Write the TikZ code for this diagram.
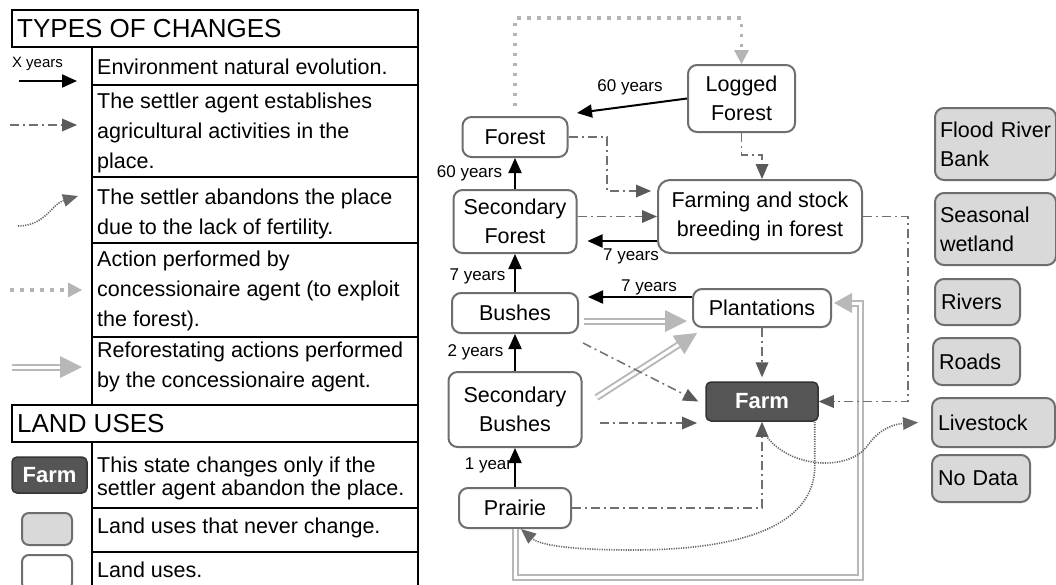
\documentclass[tikz,border=0pt]{standalone}
\usepackage{fontspec}
\setmainfont{Liberation Sans}
\usetikzlibrary{arrows.meta,calc}
\definecolor{bordercol}{HTML}{6E6E6E}
\definecolor{grayfill}{HTML}{D9D9D9}
\definecolor{farmfill}{HTML}{555555}
\definecolor{dashcol}{HTML}{707070}
\definecolor{tipcol}{HTML}{5A5A5A}
\definecolor{concol}{HTML}{B4B4B4}
\definecolor{abcol}{HTML}{666666}
\definecolor{dblcol}{HTML}{B8B8B8}
\begin{document}
\begin{tikzpicture}[x=1pt,y=-1pt,
  bodyfont/.style={font=\fontsize{21.5}{29}\selectfont},
  wbox/.style={draw=bordercol, line width=2pt, rounded corners=9pt, fill=white, align=center, inner sep=0pt, bodyfont},
  gbox/.style={draw=bordercol, line width=2pt, rounded corners=9pt, fill=grayfill, align=left, inner xsep=6pt, inner ysep=0pt, bodyfont},
  farmbox/.style={draw=black!80, line width=1.5pt, rounded corners=5pt, fill=farmfill, text=white, inner sep=0pt, font=\bfseries\fontsize{22}{26}\selectfont},
  yearlab/.style={font=\fontsize{17}{20}\selectfont, inner sep=0pt},
  natarrow/.style={draw=black, line width=2pt, -{Triangle[length=15pt,width=13pt]}},
  setarrow/.style={draw=dashcol, line width=1.5pt, dash pattern=on 9pt off 4pt on 2pt off 4pt, -{Triangle[length=15pt,width=13pt,color=tipcol,line width=0pt]}},
  conarrow/.style={draw=concol, line width=3.5pt, dash pattern=on 3.5pt off 6.5pt, -{Triangle[length=14pt,width=15pt,line width=0pt]}},
  abarrow/.style={draw=abcol, line width=1.6pt, dash pattern=on 1.2pt off 1.2pt, -{Triangle[length=15pt,width=13pt,line width=0pt]}},
  dblline/.style={draw=dblcol, line width=2pt, double=white, double distance=3pt},
  dbltip/.style={draw=dblcol, line width=0.5pt, -{Triangle[length=22pt,width=22pt,line width=0pt]}},
  legline/.style={draw=black, line width=1.6pt},
  legtext/.style={font=\fontsize{21.5}{30}\selectfont, align=left, anchor=west, inner sep=0pt},
  legtitle/.style={font=\fontsize{26}{30}\selectfont, anchor=west, inner sep=0pt},
]
\fill[white] (0,0) rectangle (1056,584);
\useasboundingbox (0,0) rectangle (1056,584);

% ---------------- legend frame ----------------
\draw[legline] (12,10) rectangle (418,47);
\draw[legline] (92,47) -- (92,405) (418,47) -- (418,405);
\draw[legline] (92,85) -- (418,85) (92,177) -- (418,177) (92,243) -- (418,243) (92,337) -- (418,337);
\draw[legline] (12,405) rectangle (418,442);
\draw[legline] (92,442) -- (92,590) (418,442) -- (418,590);
\draw[legline] (92,508) -- (418,508) (92,552) -- (418,552);

% ---------------- legend texts ----------------
\node[legtitle] (lt1) at (17,29) {TYPES OF CHANGES};
\node[legtext] (l1) at (97,67) {Environment natural evolution.};
\node[legtext] (l2) at (97,132.5) {The settler agent establishes\\agricultural activities in the\\place.};
\node[legtext] (l3) at (97,213.5) {The settler abandons the place\\due to the lack of fertility.};
\node[legtext] (l4) at (97,291) {Action performed by\\concessionaire agent (to exploit\\the forest).};
\node[legtext] (l5) at (97,367) {Reforestating actions performed\\by the concessionaire agent.};
\node[legtitle] (lt2) at (17,424) {LAND USES};
\node[legtext, font=\fontsize{21.5}{23}\selectfont] (l6) at (97,478.5) {This state changes only if the\\settler agent abandon the place.};
\node[legtext] (l7) at (97,528) {Land uses that never change.};
\node[legtext] (l8) at (97,570) {Land uses.};

% ---------------- legend icons ----------------
\node[yearlab, font=\fontsize{15}{18}\selectfont] (lx) at (37.5,64) {X years};
\coordinate (l1a) at (19,81); \coordinate (l1b) at (77,81);
\draw[natarrow] (l1a) -- (l1b);
\coordinate (l2a) at (10,125); \coordinate (l2b) at (77,125);
\draw[setarrow] (l2a) -- (l2b);
\coordinate (l3a) at (18,226); \coordinate (l3b) at (78,196);
\draw[abarrow] (l3a) .. controls (45,226) and (52,204) .. (l3b);
\coordinate (l4a) at (10,290); \coordinate (l4b) at (82,290);
\draw[conarrow] (l4a) -- (l4b);
\coordinate (l5a) at (12,367); \coordinate (l5b) at (82,367);
\draw[dbltip] ($(l5b)+(-25,0)$) -- (l5b);
\draw[dblline] (l5a) -- ($(l5b)+(-22,0)$);
\node[farmbox, minimum width=75pt, minimum height=36pt] (lfarm) at (49.5,475) {Farm};
\node[gbox, minimum width=50pt, minimum height=32pt, inner sep=0pt, rounded corners=7pt] (lgray) at (47,529) {};
\node[wbox, minimum width=50pt, minimum height=35pt, rounded corners=7pt] (lwhite) at (47,572.5) {};

% ---------------- diagram nodes ----------------
\node[wbox, minimum width=105pt, minimum height=40pt] (forest) at (515,137) {Forest};
\node[wbox, minimum width=107pt, minimum height=67pt] (logged) at (741.5,98.5) {Logged\\Forest};
\node[wbox, minimum width=123pt, minimum height=63pt] (secforest) at (515,221.5) {Secondary\\Forest};
\node[wbox, minimum width=204pt, minimum height=73pt, rounded corners=12pt] (farming) at (760,216.5) {Farming and stock\\breeding in forest};
\node[wbox, minimum width=126pt, minimum height=40pt] (bushes) at (515,313) {Bushes};
\node[wbox, minimum width=138pt, minimum height=38pt] (plant) at (762,308) {Plantations};
\node[wbox, minimum width=133pt, minimum height=75pt] (secbushes) at (515,409.5) {Secondary\\Bushes};
\node[farmbox, minimum width=112pt, minimum height=39pt] (farm) at (762,401.5) {Farm};
\node[wbox, minimum width=112pt, minimum height=40pt] (prairie) at (515,508) {Prairie};

\node[gbox, text width=111pt, inner xsep=5pt, minimum height=72pt] (flood) at (995.5,144) {Flood~River\\Bank};
\node[gbox, text width=111pt, inner xsep=5pt, minimum height=72pt] (seasonal) at (995.5,229) {Seasonal\\wetland};
\node[gbox, text width=73pt, minimum height=46pt] (rivers) at (977.5,302) {Rivers};
\node[gbox, text width=75pt, minimum height=47pt] (roads) at (976.5,361.5) {Roads};
\node[gbox, text width=111pt, minimum height=49pt] (livestock) at (993.5,422.5) {Livestock};
\node[gbox, text width=86pt, minimum height=47pt] (nodata) at (981,478.5) {No~Data};

% ---------------- reforestation (double) ----------------
\coordinate (bpTip) at (687,321);
\draw[dbltip] ($(bpTip)+(-25,0)$) -- (bpTip);
\draw[dblline] ([xshift=5pt]bushes.east |- bpTip) -- ($(bpTip)+(-22,0)$);

\coordinate (sbpTip) at ([shift={(5pt,-5pt)}]plant.south west);
\coordinate (sbpStart) at ([shift={(14pt,12pt)}]secbushes.east);
\draw[dbltip] ($(sbpTip)!25pt!(sbpStart)$) -- (sbpTip);
\draw[dblline] (sbpStart) -- ($(sbpTip)!22pt!(sbpStart)$);

\coordinate (ppC) at (860,577);
\coordinate (ppTip) at ([xshift=2pt,yshift=5pt]plant.east);
\draw[dbltip, -{Triangle[length=18pt,width=20pt,line width=0pt]}] ($(ppTip)+(21,0)$) -- (ppTip);
\draw[dblline] (prairie.south) |- (ppC) |- ($(ppTip)+(18,0)$);

% ---------------- natural evolution ----------------
\coordinate (lfTip) at (577,113);
\draw[natarrow] (logged.west) -- (lfTip);
\node[yearlab] (y60a) at (630,87) {60 years};
\draw[natarrow] (secforest.north) -- (forest.south);
\node[yearlab] (y60b) at (469.5,173) {60 years};
\draw[natarrow] (bushes.north) -- (secforest.south);
\node[yearlab] (y7a) at (477.5,276) {7 years};
\draw[natarrow] (secbushes.north) -- (bushes.south);
\node[yearlab] (y2) at (475.5,352) {2 years};
\draw[natarrow] (prairie.north) -- (secbushes.south);
\node[yearlab] (y1) at (488.5,465) {1 year};
\coordinate (fsY) at (0,241);
\draw[natarrow] (farming.west |- fsY) -- ([xshift=10pt]secforest.east |- fsY);
\node[yearlab] (y7b) at (631,256) {7 years};
\coordinate (pbY) at (0,297);
\draw[natarrow] (plant.west |- pbY) -- ([xshift=9pt]bushes.east |- pbY);
\node[yearlab] (y7c) at (649,287) {7 years};

% ---------------- concessionaire ----------------
\coordinate (topC) at (741.5,18);
\draw[conarrow] ([yshift=10pt]forest.north) |- (topC) -- (logged.north);

% ---------------- settler establishes ----------------
\coordinate (ffC) at (607,191);
\draw[setarrow] (forest.east) -| (ffC) -- ([xshift=-6pt]farming.west |- ffC);
\coordinate (lfC) at (762,155);
\draw[setarrow] (logged.south) |- (lfC) -- (lfC |- farming.north);
\draw[setarrow] (secforest.east |- farming.west) -- (farming.west);
\draw[setarrow] ([shift={(4pt,-9pt)}]bushes.south east) -- ([xshift=-7pt]farm.west);
\draw[setarrow] (plant.south) -- ([yshift=4pt]farm.north);
\coordinate (sbfC) at (697,423);
\draw[setarrow] ([xshift=17pt]secbushes.east |- sbfC) -- (sbfC);
\draw[setarrow] (prairie.east) -| (farm.south);
\coordinate (rtC) at (908,401.5);
\draw[setarrow] (farming.east) -| (rtC) -- (farm.east);

% ---------------- settler abandons ----------------
\draw[abarrow] ([xshift=-4pt]farm.south east) -- ++(0,44) .. controls +(0,75) and (700,550) .. (633,550) .. controls (570,550) and (540,545) .. ([xshift=6pt]prairie.south);
\draw[abarrow] ([yshift=-8pt]farm.south) .. controls (785,470) and (850,472) .. (868,445) .. controls (880,428) and (895,424) .. ([xshift=-13pt]livestock.west);
\end{tikzpicture}
\end{document}
